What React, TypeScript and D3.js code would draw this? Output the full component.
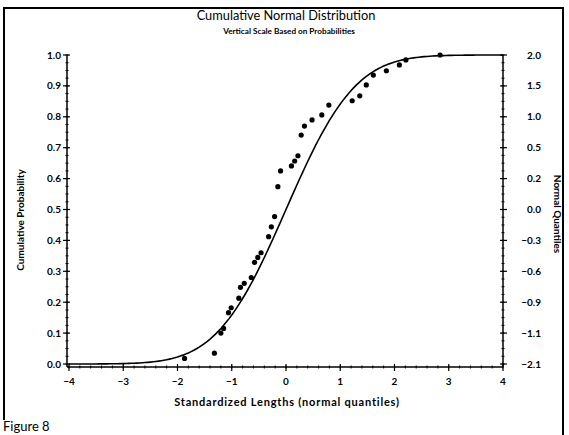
import React from "react";
import * as d3 from "d3";

const pointX = [-1.87, -1.32, -1.2, -1.15, -1.06, -1.01, -0.87, -0.84, -0.77, -0.64, -0.58, -0.52, -0.46, -0.32, -0.27, -0.21, -0.15, -0.1, 0.1, 0.16, 0.22, 0.28, 0.34, 0.48, 0.66, 0.79, 1.22, 1.36, 1.48, 1.61, 1.85, 2.09, 2.21, 2.84];
const pointP = [0.018, 0.035, 0.1, 0.115, 0.166, 0.182, 0.213, 0.248, 0.261, 0.28, 0.329, 0.345, 0.36, 0.412, 0.444, 0.477, 0.574, 0.625, 0.641, 0.657, 0.674, 0.741, 0.77, 0.79, 0.806, 0.838, 0.852, 0.868, 0.903, 0.935, 0.949, 0.968, 0.984, 1.0];
const xTicks = [-4, -3, -2, -1, 0, 1, 2, 3, 4];
const yTicks = [0, 0.1, 0.2, 0.3, 0.4, 0.5, 0.6, 0.7, 0.8, 0.9, 1.0];
const rightLabels = ["\u22122.1", "\u22121.1", "\u22120.9", "\u22120.6", "\u22120.3", "0.0", "0.2", "0.5", "1.0", "1.5", "2.0"];

function phi(x: number): number {
  const t = 1 / (1 + 0.2316419 * Math.abs(x));
  const d = 0.3989423 * Math.exp((-x * x) / 2);
  const p = d * t * (0.3193815 + t * (-0.3565638 + t * (1.781478 + t * (-1.821256 + t * 1.330274))));
  return x > 0 ? 1 - p : p;
}

const FONT = "Lato, 'DejaVu Sans', sans-serif";

export default function App() {
  const W = 569, H = 435;
  const x = d3.scaleLinear().domain([-4, 4]).range([69, 503]);
  const y = d3.scaleLinear().domain([0, 1]).range([364, 55]);
  const axisLeftX = 67;
  const axisBottomY = 367;
  const curveData = d3.range(-4, 4.0001, 0.05).map((v) => [v, phi(v)] as [number, number]);
  const line = d3.line<[number, number]>().x((d) => x(d[0])).y((d) => y(d[1]));
  const yMinor = d3.range(0, 1.0001, 0.025);
  const xMinor = d3.range(-4, 4.0001, 0.2);

  return (
    <svg width={W} height={H} style={{ position: "absolute", left: 0, top: 0, background: "#fff" }} fontFamily={FONT}>
      <rect x={0} y={0} width={W} height={H} fill="#fff" />
      <path d={`M4,420 L4,8 L563,8 L563,435`} fill="none" stroke="#000" strokeWidth={2} />
      <text x={286} y={20} textAnchor="middle" fontSize={12.8}>Cumulative Normal Distribution</text>
      <text x={289} y={34} textAnchor="middle" fontSize={8.2} fontWeight="bold">Vertical Scale Based on Probabilities</text>
      <line x1={axisLeftX} x2={axisLeftX} y1={y(1)} y2={axisBottomY} stroke="#000" strokeWidth={1.5} />
      {yMinor.map((v, i) => (
        <line key={"ym" + i} x1={axisLeftX - 1.5} x2={axisLeftX + 1.5} y1={y(v)} y2={y(v)} stroke="#000" strokeWidth={1} />
      ))}
      {yTicks.map((v) => (
        <g key={"yt" + v}>
          <line x1={axisLeftX - 4} x2={axisLeftX + 3} y1={y(v)} y2={y(v)} stroke="#000" strokeWidth={1.2} />
          <text x={axisLeftX - 6} y={y(v) + 3.5} textAnchor="end" fontSize={10} fontWeight="bold">{v.toFixed(1)}</text>
        </g>
      ))}
      <line x1={503} x2={503} y1={y(1)} y2={axisBottomY} stroke="#000" strokeWidth={1.5} />
      {yMinor.map((v, i) => (
        <line key={"yrm" + i} x1={501.5} x2={504.5} y1={y(v)} y2={y(v)} stroke="#000" strokeWidth={1} />
      ))}
      {yTicks.map((v, i) => (
        <g key={"yr" + v}>
          <line x1={500} x2={507} y1={y(v)} y2={y(v)} stroke="#000" strokeWidth={1.2} />
          <text x={541} y={y(v) + 3.5} textAnchor="end" fontSize={10} fontWeight="bold">{rightLabels[i]}</text>
        </g>
      ))}
      <line x1={axisLeftX} x2={503} y1={axisBottomY} y2={axisBottomY} stroke="#000" strokeWidth={1.5} />
      {xMinor.map((v, i) => (
        <line key={"xm" + i} x1={x(v)} x2={x(v)} y1={axisBottomY - 1.5} y2={axisBottomY + 1.5} stroke="#000" strokeWidth={1} />
      ))}
      {xTicks.map((v) => (
        <g key={"xt" + v}>
          <line x1={x(v)} x2={x(v)} y1={axisBottomY - 3} y2={axisBottomY + 4} stroke="#000" strokeWidth={1.2} />
          <text x={x(v)} y={385} textAnchor="middle" fontSize={10} fontWeight="bold">{v < 0 ? "\u2212" + Math.abs(v) : String(v)}</text>
        </g>
      ))}
      <text x={287} y={406} textAnchor="middle" fontSize={11} fontWeight="bold" letterSpacing={0.8}>Standardized Lengths (normal quantiles)</text>
      <text transform={`translate(24,220) rotate(-90)`} textAnchor="middle" fontSize={10} fontWeight="bold">Cumulative Probability</text>
      <text transform={`translate(554,214) rotate(90)`} textAnchor="middle" fontSize={10} fontWeight="bold">Normal Quantiles</text>
      <path d={line(curveData) || ""} fill="none" stroke="#000" strokeWidth={1.6} />
      {pointX.map((v, i) => (
        <circle key={"p" + i} cx={x(v)} cy={y(pointP[i])} r={2.6} fill="#000" />
      ))}
      <text x={3} y={431} fontSize={13}>Figure 8</text>
    </svg>
  );
}
